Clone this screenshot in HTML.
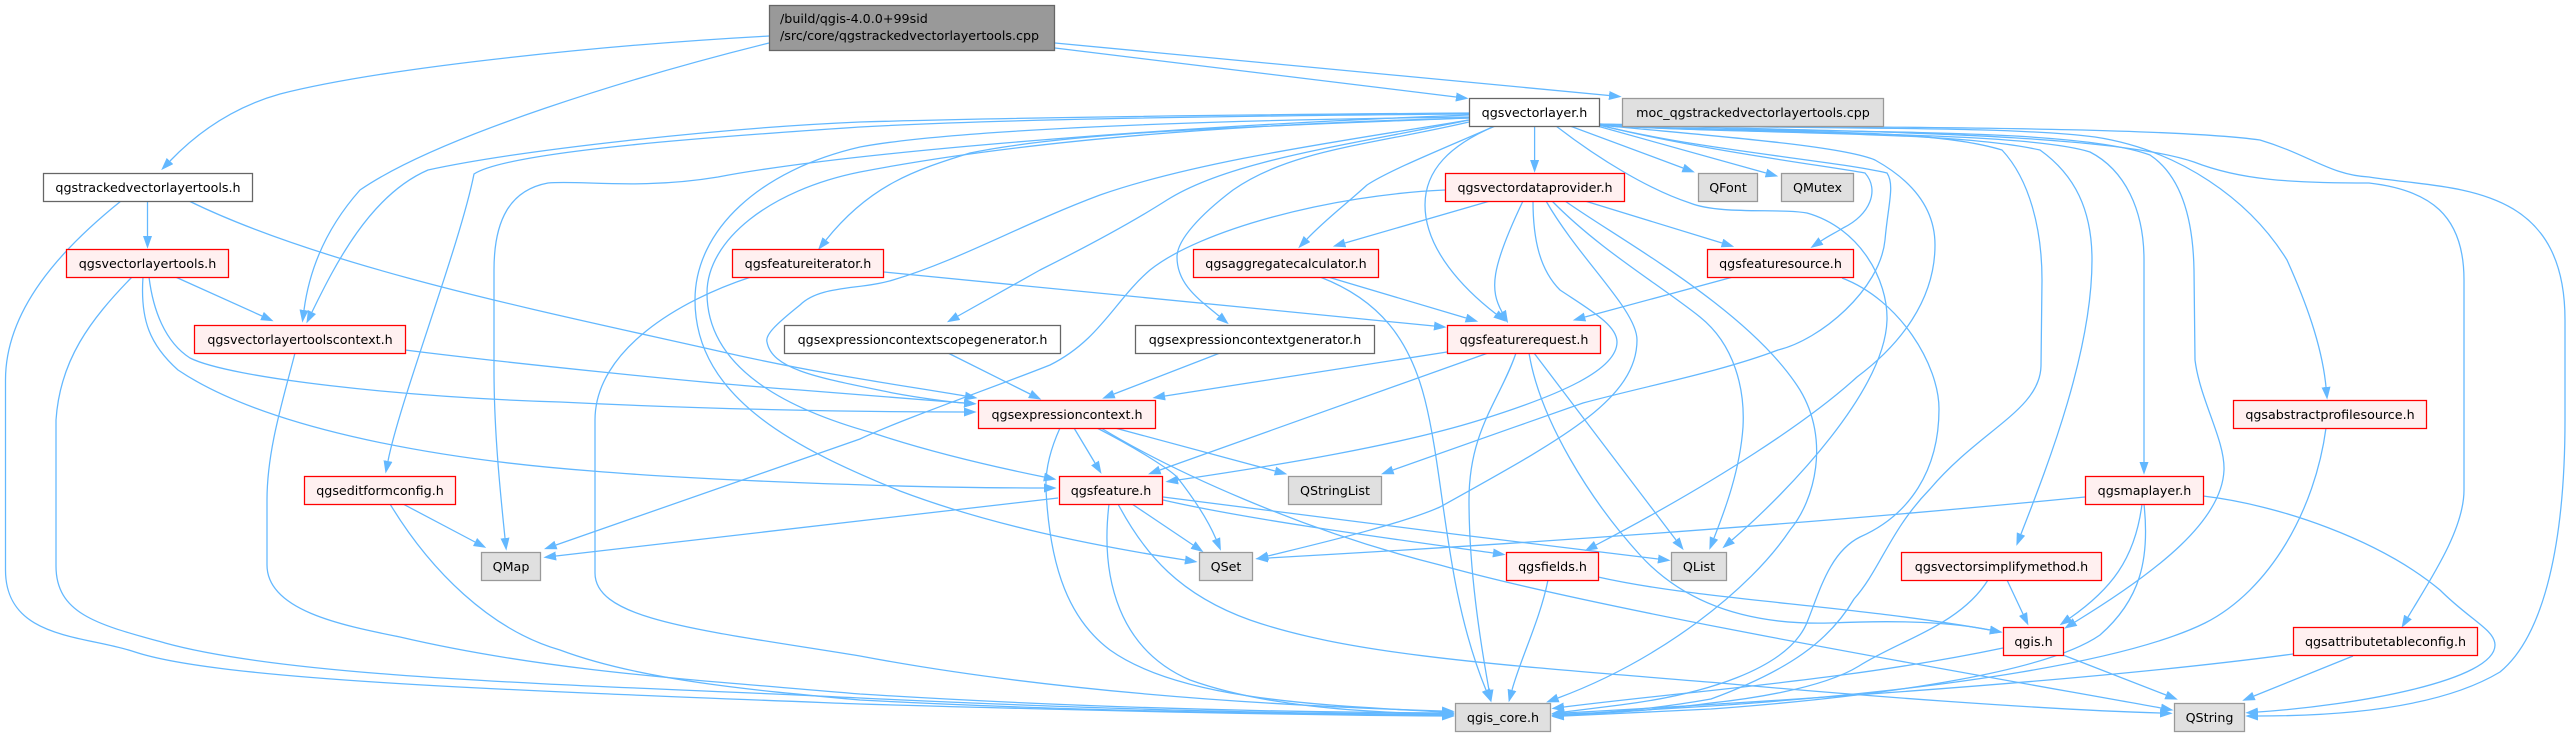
<!DOCTYPE html>
<html><head><meta charset="utf-8"><style>
html,body{margin:0;padding:0;background:#fff}
svg{display:block}
text{font-family:"DejaVu Sans",sans-serif;font-size:12.7px;fill:#000;text-anchor:middle}
.e path{fill:none;stroke:#63b8ff;stroke-width:1.27;marker-end:url(#a)}
.w{fill:#fff;stroke:#666;stroke-width:1.27}
.r{fill:#fff0f0;stroke:#f00;stroke-width:1.27}
.g{fill:#e0e0e0;stroke:#999;stroke-width:1.27}
.m{fill:#999;stroke:#666;stroke-width:1.27}
</style></head><body>
<svg width="2571" height="736" viewBox="0 0 2571 736" xmlns="http://www.w3.org/2000/svg">
<defs><marker id="a" markerUnits="userSpaceOnUse" markerWidth="14" markerHeight="10" refX="0" refY="4.5" orient="auto"><polygon points="0,0 12.7,4.5 0,9" fill="#63b8ff"/></marker></defs>
<g class="e">
<path d="M769,36C620,44 390,66 280,94C230,108 195,135 170,161"/>
<path d="M769,43C640,75 440,135 360,190C320,235 308,280 304,310"/>
<path d="M1055,48L1456,97"/>
<path d="M1055,43L1609,95.5"/>
<path d="M147.5,201L147.5,236"/>
<path d="M121,201C60,250 5.5,310 5.5,380L5.5,570C5.5,640 85,635 135,652C220,680 500,690 860,704C1100,711 1300,715 1442,716"/>
<path d="M189,201C330,270 560,315 727,353C820,374 900,385 965,396"/>
<path d="M175.5,277L262,316"/>
<path d="M132,277C90,320 60,360 56,420L56,566C56,615 100,625 165,643C300,680 600,685 860,698C1050,707 1250,714 1442,714"/>
<path d="M143,277C140,320 150,345 178,370C260,425 420,458 592,471C700,480 900,488 1044,488"/>
<path d="M149,277C153,310 165,342 190,358C230,378 400,397 560,402C700,409 850,412 964,412"/>
<path d="M405,350C500,362 700,383 800,390C860,395 920,400 964,403"/>
<path d="M295,353C283,400 267,450 267,500L267,565C267,610 340,625 400,637C550,672 700,680 860,694C1050,706 1250,712 1442,713"/>
<path d="M1469,113C1200,115 1000,118 860,122C720,128 520,150 428,170C370,195 335,265 312,312"/>
<path d="M1469,114C1100,117 950,122 860,127C740,135 510,150 474,174C460,245 400,400 388,461"/>
<path d="M1469,115C1200,125 860,150 718,177C640,190 580,180 548,183C510,190 494,220 494,270L494,370C494,430 500,490 505,538"/>
<path d="M1469,117C1200,120 950,130 860,147C760,170 695,230 695,300C695,400 800,450 900,491C990,525 1090,545 1185,560"/>
<path d="M1469,118C1200,125 1000,145 860,172C770,190 707,240 707,293C707,370 790,410 873,433C930,452 990,466 1044,477"/>
<path d="M1469,118C1300,125 1080,130 970,153C915,170 870,185 826,240"/>
<path d="M1469,120C1350,140 1200,160 1100,195C1020,225 960,260 893,280C860,290 820,285 800,305C775,325 765,335 767,342C772,370 820,378 893,393C920,398 950,402 964,403"/>
<path d="M1469,120C1350,145 1230,160 1167,200C1120,230 1050,265 1040,270L958,316"/>
<path d="M1469,122C1370,145 1290,150 1233,190C1200,215 1177,240 1177,257C1177,285 1200,300 1219,316"/>
<path d="M1495,126C1440,150 1390,170 1367,185C1345,205 1325,220 1307,239"/>
<path d="M1495,126C1450,145 1425,170 1425,205C1425,250 1465,290 1496,314"/>
<path d="M1534.6,126L1534.6,160"/>
<path d="M1556,126C1600,160 1650,190 1690,203C1720,215 1780,208 1807,213C1860,228 1888,280 1887,320C1885,390 1790,490 1732,540"/>
<path d="M1570,126L1683,168"/>
<path d="M1590,124L1766,173"/>
<path d="M1599,125C1700,150 1820,165 1865,173C1880,190 1870,215 1843,228C1835,233 1830,235 1821,241"/>
<path d="M1599,125C1700,150 1830,160 1887,173C1895,185 1888,205 1885,240C1880,290 1820,340 1778,350C1720,372 1650,385 1583,403C1520,425 1450,450 1393,470"/>
<path d="M1599,125C1750,135 1920,125 2002,150C2030,180 2042,230 2042,280L2041,366C2040,410 1980,430 1930,489C1890,530 1880,570 1854,599C1830,640 1790,670 1711,699C1660,708 1610,713 1564,714"/>
<path d="M1599,125C1750,135 1950,130 2040,150C2075,175 2092,210 2092,260C2092,350 2050,460 2021,534"/>
<path d="M1599,125C1750,135 2020,130 2090,152C2125,170 2144,210 2144,260L2144,462"/>
<path d="M1599,125C1800,135 2070,125 2150,155C2180,175 2193,215 2194,270L2195,360C2200,400 2225,440 2224,470C2222,520 2160,570 2075,622"/>
<path d="M1599,124C1800,130 2000,125 2095,137C2180,150 2250,200 2287,260C2305,300 2322,345 2326,387"/>
<path d="M1599,124C1800,132 2100,130 2194,162C2240,180 2290,183 2369,183C2430,190 2464,215 2464,280L2464,490C2464,530 2430,580 2408,617"/>
<path d="M1599,124C1800,128 2150,125 2260,140C2310,155 2330,175 2369,177C2450,190 2565,180 2565,320L2565,420C2565,540 2545,635 2500,672C2440,708 2340,716 2258,716"/>
<path d="M1599,125C1700,135 1840,145 1875,160C1920,185 1935,215 1935,245C1935,300 1900,345 1857,377C1810,420 1720,480 1596,545"/>
<path d="M1447,352L1165,396"/>
<path d="M1488,353L1160,470"/>
<path d="M1516,353C1500,400 1469,430 1469,500C1469,570 1480,640 1489,690"/>
<path d="M1529,353C1540,420 1590,500 1640,555C1690,610 1760,625 1830,623C1900,620 1950,622 1990,630"/>
<path d="M1534,353L1676,540"/>
<path d="M1548,580C1540,620 1520,660 1512,690"/>
<path d="M1598,577C1700,600 1850,605 1990,630"/>
<path d="M1132,504L1193,545"/>
<path d="M1163,500C1250,520 1400,540 1493,553"/>
<path d="M1163,497C1300,515 1500,540 1658,559"/>
<path d="M1058,498L556,556"/>
<path d="M1109,504C1100,580 1120,650 1190,680C1260,705 1350,712 1442,714"/>
<path d="M1118,504C1145,555 1180,595 1250,620C1350,655 1500,665 1720,683C1850,695 2050,710 2160,713"/>
<path d="M1074,428L1095,463"/>
<path d="M1115,428L1275,471"/>
<path d="M1097,428C1140,450 1170,470 1177,477C1195,500 1208,520 1216,539"/>
<path d="M1101,428C1170,470 1300,530 1440,565C1600,610 1950,670 2161,708"/>
<path d="M1060,428C1050,450 1045,470 1046,490C1050,570 1070,620 1110,650C1180,700 1320,705 1442,712"/>
<path d="M1328,277L1466,318"/>
<path d="M1320,277C1380,300 1410,340 1425,400C1445,480 1445,590 1486,690"/>
<path d="M1490,201L1345,243"/>
<path d="M1445,190C1330,195 1200,230 1150,270C1115,300 1100,340 1050,365C1000,385 900,420 860,439L556,545"/>
<path d="M1523,201C1490,270 1490,290 1502,312"/>
<path d="M1533,201C1533,240 1540,270 1560,290C1590,310 1617,325 1617,342C1617,370 1560,395 1480,420C1400,445 1280,465 1178,480"/>
<path d="M1546,201C1580,260 1637,310 1637,340C1637,400 1560,440 1440,507C1400,525 1300,548 1268,556"/>
<path d="M1552,201C1600,250 1660,285 1700,317C1735,345 1745,390 1743,427C1740,470 1725,510 1714,538"/>
<path d="M1565,201C1620,240 1750,310 1800,390C1830,440 1815,500 1790,530C1750,590 1660,660 1558,698"/>
<path d="M1585,201L1722,243"/>
<path d="M1733,277L1585,317"/>
<path d="M1842,278C1900,300 1939,365 1939,409C1939,470 1910,515 1860,537C1830,552 1820,590 1808,620C1790,670 1700,695 1620,705L1564,712"/>
<path d="M884,272L1434,326"/>
<path d="M751,277C680,300 595,350 595,420L595,573C595,620 700,630 860,656C1040,690 1250,705 1442,711"/>
<path d="M948,353L1030,394"/>
<path d="M1220,353L1114,394"/>
<path d="M2007,580L2023,614"/>
<path d="M1988,580C1960,625 1900,640 1859,666C1820,690 1740,700 1711,703C1660,710 1610,713 1564,715"/>
<path d="M2085,497C1800,525 1500,545 1268,558"/>
<path d="M2142,504C2135,560 2110,590 2070,618"/>
<path d="M2144,504C2150,560 2140,600 2100,635C2050,670 1900,695 1711,709L1564,716"/>
<path d="M2203,496C2280,505 2380,540 2440,590C2470,620 2495,630 2495,645C2495,680 2360,705 2258,712"/>
<path d="M2326,428C2315,510 2270,590 2205,623C2130,660 1950,690 1711,706L1564,715"/>
<path d="M2293,654C2100,680 1800,700 1564,713"/>
<path d="M2353,656L2254,696"/>
<path d="M2003,648C1850,680 1700,690 1564,707"/>
<path d="M2063,655L2166,695"/>
<path d="M403,504L475,542"/>
<path d="M390,504C430,570 490,630 560,650C640,680 750,690 860,700C1050,710 1250,714 1442,715"/>
</g>
<g>
<rect class="m" x="769.5" y="5.5" width="285" height="45"/>
<text x="780" y="23" style="text-anchor:start">/build/qgis-4.0.0+99sid</text>
<text x="780" y="40" style="text-anchor:start">/src/core/qgstrackedvectorlayertools.cpp</text>
<rect class="w" x="43.5" y="173.5" width="209" height="28"/><text x="148" y="192">qgstrackedvectorlayertools.h</text>
<rect class="r" x="66.5" y="249.5" width="162" height="28"/><text x="147.5" y="268">qgsvectorlayertools.h</text>
<rect class="r" x="194.5" y="325.5" width="211" height="28"/><text x="300" y="344">qgsvectorlayertoolscontext.h</text>
<rect class="r" x="732.5" y="249.5" width="151" height="28"/><text x="808" y="268">qgsfeatureiterator.h</text>
<rect class="w" x="784.5" y="325.5" width="276" height="28"/><text x="922.5" y="344">qgsexpressioncontextscopegenerator.h</text>
<rect class="r" x="304.5" y="476.5" width="151" height="28"/><text x="380" y="495">qgseditformconfig.h</text>
<rect class="w" x="1469.5" y="98.5" width="130" height="28"/><text x="1534.5" y="117">qgsvectorlayer.h</text>
<rect class="g" x="1622.5" y="98.5" width="261" height="28"/><text x="1753" y="117">moc_qgstrackedvectorlayertools.cpp</text>
<rect class="r" x="1445.5" y="173.5" width="179" height="28"/><text x="1535" y="192">qgsvectordataprovider.h</text>
<rect class="g" x="1698.5" y="173.5" width="59" height="28"/><text x="1728" y="192">QFont</text>
<rect class="g" x="1781.5" y="173.5" width="72" height="28"/><text x="1817.5" y="192">QMutex</text>
<rect class="r" x="1193.5" y="249.5" width="185" height="28"/><text x="1286" y="268">qgsaggregatecalculator.h</text>
<rect class="r" x="1707.5" y="249.5" width="146" height="28"/><text x="1780.5" y="268">qgsfeaturesource.h</text>
<rect class="w" x="1135.5" y="325.5" width="239" height="28"/><text x="1255" y="344">qgsexpressioncontextgenerator.h</text>
<rect class="r" x="1447.5" y="325.5" width="153" height="28"/><text x="1524" y="344">qgsfeaturerequest.h</text>
<rect class="r" x="978.5" y="400.5" width="177" height="28"/><text x="1067" y="419">qgsexpressioncontext.h</text>
<rect class="r" x="2233.5" y="400.5" width="193" height="28"/><text x="2330" y="419">qgsabstractprofilesource.h</text>
<rect class="r" x="1059.5" y="476.5" width="103" height="28"/><text x="1111" y="495">qgsfeature.h</text>
<rect class="g" x="1288.5" y="476.5" width="93" height="28"/><text x="1335" y="495">QStringList</text>
<rect class="r" x="2085.5" y="476.5" width="118" height="28"/><text x="2144.5" y="495">qgsmaplayer.h</text>
<rect class="g" x="481.5" y="552.5" width="59" height="28"/><text x="511" y="571">QMap</text>
<rect class="g" x="1199.5" y="552.5" width="53" height="28"/><text x="1226" y="571">QSet</text>
<rect class="r" x="1506.5" y="552.5" width="92" height="28"/><text x="1552.5" y="571">qgsfields.h</text>
<rect class="g" x="1671.5" y="552.5" width="55" height="28"/><text x="1699" y="571">QList</text>
<rect class="r" x="1901.5" y="552.5" width="200" height="28"/><text x="2001.5" y="571">qgsvectorsimplifymethod.h</text>
<rect class="r" x="2003.5" y="627.5" width="60" height="28"/><text x="2033.5" y="646">qgis.h</text>
<rect class="r" x="2293.5" y="627.5" width="184" height="28"/><text x="2385.5" y="646">qgsattributetableconfig.h</text>
<rect class="g" x="1455.5" y="703.5" width="95" height="28"/><text x="1503" y="722">qgis_core.h</text>
<rect class="g" x="2174.5" y="703.5" width="70" height="28"/><text x="2209.5" y="722">QString</text>
</g>
</svg>
</body></html>
